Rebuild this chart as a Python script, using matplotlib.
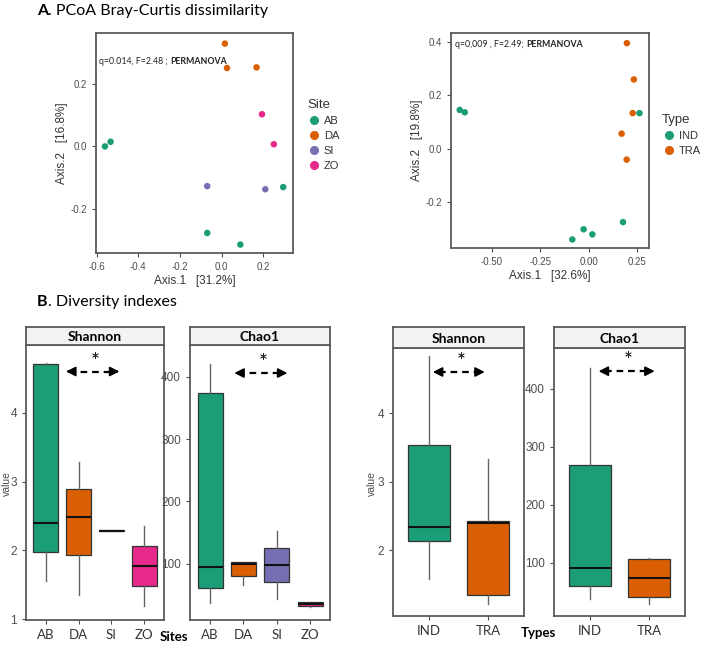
import matplotlib
matplotlib.use("Agg")
from matplotlib import pyplot as plt
from matplotlib.lines import Line2D

# ---- data ----
site_names = ["AB", "DA", "SI", "ZO"]
site_colors = ["#1B9E77", "#D95F02", "#7570B3", "#E7298A"]
type_names = ["IND", "TRA"]
type_colors = ["#1B9E77", "#D95F02"]

# PCoA by site
pc_site_x = [-0.560, -0.533, -0.069, 0.090, 0.296, 0.016, 0.026, 0.168, -0.069, 0.210, 0.194, 0.251]
pc_site_y = [0.000, 0.015, -0.277, -0.314, -0.130, 0.329, 0.251, 0.253, -0.127, -0.137, 0.103, 0.007]
pc_site_grp = ["AB", "AB", "AB", "AB", "AB", "DA", "DA", "DA", "SI", "SI", "ZO", "ZO"]

# PCoA by type
pc_type_x = [-0.664, -0.638, 0.262, 0.177, -0.026, 0.019, -0.084, 0.197, 0.233, 0.227, 0.170, 0.196]
pc_type_y = [0.146, 0.137, 0.134, -0.274, -0.301, -0.320, -0.339, 0.396, 0.260, 0.134, 0.057, -0.040]
pc_type_grp = ["IND"] * 7 + ["TRA"] * 5

# Shannon by site (whisker low, q1, median, q3, whisker high)
sh_site_low = [1.55, 1.36, 2.28, 1.19]
sh_site_q1 = [1.98, 1.93, 2.28, 1.48]
sh_site_med = [2.40, 2.49, 2.29, 1.77]
sh_site_q3 = [4.71, 2.89, 2.30, 2.07]
sh_site_high = [4.72, 3.29, 2.30, 2.36]

# Chao1 by site
ch_site_low = [37, 66, 43, 31]
ch_site_q1 = [61, 81, 70, 32]
ch_site_med = [94, 100, 98, 35]
ch_site_q3 = [374, 102, 125, 38]
ch_site_high = [420, 103, 153, 39]

# Shannon by type
sh_type_low = [1.58, 1.22]
sh_type_q1 = [2.14, 1.34]
sh_type_med = [2.34, 2.40]
sh_type_q3 = [3.54, 2.42]
sh_type_high = [4.84, 3.33]

# Chao1 by type
ch_type_low = [38, 29]
ch_type_q1 = [60, 41]
ch_type_med = [91, 74]
ch_type_q3 = [269, 106]
ch_type_high = [436, 108]

W, H = 708, 645
fig = plt.figure(figsize=(W / 100, H / 100), dpi=100)
TXT = ["Lato", "DejaVu Sans"]
SANS = ["Liberation Sans", "DejaVu Sans"]
GREY = "#4D4D4D"
BORDER = "#5A5A5A"


def px_axes(x0, y0, x1, y1):
    return fig.add_axes([x0 / W, 1 - y1 / H, (x1 - x0) / W, (y1 - y0) / H])


def style_axes(ax, tsize):
    for s in ax.spines.values():
        s.set_color(BORDER)
        s.set_linewidth(1.3)
    ax.tick_params(colors=GREY, labelcolor=GREY, labelsize=tsize, length=3, width=0.8)
    for lab in ax.get_xticklabels() + ax.get_yticklabels():
        lab.set_family(SANS)


def pcoa(ax, xs, ys, grp, names, cols, xl, yl, xt, xtl, yt, ytl, xlab, ylab, note1, note_xy):
    for n, c in zip(names, cols):
        px = [x for x, g in zip(xs, grp) if g == n]
        py = [y for y, g in zip(ys, grp) if g == n]
        ax.scatter(px, py, s=22, color=c, edgecolors="none", zorder=3)
    ax.set_xlim(*xl)
    ax.set_ylim(*yl)
    ax.set_xticks(xt, xtl)
    ax.set_yticks(yt, ytl)
    style_axes(ax, 7)
    ax.set_xlabel(xlab, fontsize=8.5, color="#333333", family=SANS, labelpad=2)
    ax.set_ylabel(ylab, fontsize=8.5, color="#333333", family=SANS, labelpad=2)
    t = ax.text(note_xy[0], note_xy[1], note1, transform=ax.transAxes, fontsize=6.3,
                family=TXT, va="center", ha="left", color="#222222")
    ax.annotate("PERMANOVA", xy=(1, 0.5), xycoords=t, va="center", ha="left",
                fontsize=6.3, family=TXT, fontweight="bold", color="#222222")
    return ax


axA1 = px_axes(96, 33, 293, 253)
pcoa(axA1, pc_site_x, pc_site_y, pc_site_grp, site_names, site_colors,
     (-0.603, 0.343), (-0.341, 0.363),
     [-0.6, -0.4, -0.2, 0.0, 0.2], ["-0.6", "-0.4", "-0.2", "0.0", "0.2"],
     [-0.2, 0.0, 0.2], ["-0.2", "0.0", "0.2"],
     "Axis.1   [31.2%]", "Axis.2   [16.8%]", "q=0.014, F=2.48 ; ", (0.015, 0.87))

axA2 = px_axes(451, 33, 649, 248)
pcoa(axA2, pc_type_x, pc_type_y, pc_type_grp, type_names, type_colors,
     (-0.709, 0.311), (-0.371, 0.434),
     [-0.5, -0.25, 0.0, 0.25], ["-0.50", "-0.25", "0.00", "0.25"],
     [-0.2, 0.0, 0.2, 0.4], ["-0.2", "0.0", "0.2", "0.4"],
     "Axis.1   [32.6%]", "Axis.2   [19.8%]", "q=0,009 , F=2.49; ", (0.02, 0.945))

# ---- titles: bold letter + normal rest ----
for y, rest in ((11, ". PCoA Bray-Curtis dissimilarity"), (302, ". Diversity indexes")):
    t = fig.text(37 / W, 1 - y / H, "A" if y < 100 else "B", fontsize=11.5, family=TXT,
                 fontweight="bold", va="center", ha="left")
    axA1.annotate(rest, xy=(1, 0.5), xycoords=t, va="center", ha="left", fontsize=11.5,
                  family=TXT, annotation_clip=False)


def legend(ax, title, names, cols, x, y):
    h = [Line2D([], [], marker="o", ls="none", color=c, markersize=5.5) for c in cols]
    lg = ax.legend(h, names, title=title, loc="upper left", bbox_to_anchor=(x / W, 1 - y / H),
                   bbox_transform=fig.transFigure, frameon=False, fontsize=8,
                   title_fontsize=9.5, handletextpad=0.3, labelspacing=0.45, handlelength=1.2,
                   borderaxespad=0, borderpad=0)
    lg._legend_box.align = "left"
    for t in lg.get_texts():
        t.set_color("#333333")
        t.set_family(SANS)
    lg.get_title().set_color("#333333")
    lg.get_title().set_family(SANS)


legend(axA1, "Site", site_names, site_colors, 307, 99)
legend(axA2, "Type", type_names, type_colors, 662, 114)


# ---- box panels ----
def box_panel(x0, y0, x1, y1, strip_top, title, names, cols, low, q1, med, q3, high,
              yl, yt, width, arrow, star_x):
    ax = px_axes(x0, y0, x1, y1)
    stats = []
    for i in range(len(names)):
        stats.append(dict(med=med[i], q1=q1[i], q3=q3[i], whislo=low[i], whishi=high[i],
                          fliers=[], label=names[i]))
    bp = ax.bxp(stats, positions=range(1, len(names) + 1), widths=width, patch_artist=True,
                showfliers=False, showcaps=False,
                boxprops=dict(edgecolor="#333333", linewidth=0.9),
                whiskerprops=dict(color="#666666", linewidth=1.0),
                medianprops=dict(color="#111111", linewidth=1.5))
    for p, c in zip(bp["boxes"], cols):
        p.set_facecolor(c)
    ax.set_xlim(0.4, len(names) + 0.6)
    ax.set_ylim(*yl)
    ax.set_yticks(yt, [str(v) for v in yt])
    style_axes(ax, 8.5)
    for lab in ax.get_xticklabels():
        lab.set_family(TXT)
        lab.set_fontsize(9.5)
        lab.set_color("#333333")
    # significance arrow
    xa, xb, ya = arrow
    ax.plot([xa + 0.1, xb - 0.1], [ya, ya], color="black", lw=1.6, ls=(0, (3, 2.2)))
    for s, e in ((xa + 0.12, xa), (xb - 0.12, xb)):
        ax.annotate("", xy=(e, ya), xytext=(s, ya),
                    arrowprops=dict(arrowstyle="-|>,head_length=0.55,head_width=0.28",
                                    color="black", lw=1.3, shrinkA=0, shrinkB=0))
    ax.text(star_x, ya, "*", fontsize=15, ha="center", va="bottom", family=TXT)
    # strip
    st = px_axes(x0, strip_top, x1, y0)
    st.set_facecolor("#F2F2F2")
    st.set_xticks([])
    st.set_yticks([])
    for s in st.spines.values():
        s.set_color(BORDER)
        s.set_linewidth(1.3)
    st.text(0.5, 0.45, title, ha="center", va="center", fontsize=10, fontweight="bold",
            family=TXT, transform=st.transAxes)
    return ax


axB1 = box_panel(26, 345, 164, 620, 327, "Shannon", site_names, site_colors,
                 sh_site_low, sh_site_q1, sh_site_med, sh_site_q3, sh_site_high,
                 (0.99, 4.985), [1, 2, 3, 4], 0.75, (1.62, 3.24, 4.6), 2.5)

axB2 = box_panel(190, 345, 330, 620, 327, "Chao1", site_names, site_colors,
                 ch_site_low, ch_site_q1, ch_site_med, ch_site_q3, ch_site_high,
                 (9.6, 451), [100, 200, 300, 400], 0.75, (1.73, 3.32, 406), 2.6)

axB3 = box_panel(393, 348, 524, 616, 327, "Shannon", type_names, type_colors,
                 sh_type_low, sh_type_q1, sh_type_med, sh_type_q3, sh_type_high,
                 (1.04, 4.95), [2, 3, 4], 0.7, (1.07, 1.94, 4.6), 1.55)

axB4 = box_panel(554, 348, 685, 616, 327, "Chao1", type_names, type_colors,
                 ch_type_low, ch_type_q1, ch_type_med, ch_type_q3, ch_type_high,
                 (8, 470), [100, 200, 300, 400], 0.7, (1.15, 2.09, 430), 1.65)

for xv in (7, 372):
    fig.text(xv / W, 1 - 483 / H, "value", rotation=90, fontsize=7.5, color=GREY,
             family=SANS, ha="center", va="center")

fig.text(174 / W, 1 - 637 / H, "Sites", fontsize=9.5, fontweight="bold", family=TXT,
         ha="center", va="center")
fig.text(538 / W, 1 - 633 / H, "Types", fontsize=9.5, fontweight="bold", family=TXT,
         ha="center", va="center")

fig.savefig("out.png", dpi=100)
